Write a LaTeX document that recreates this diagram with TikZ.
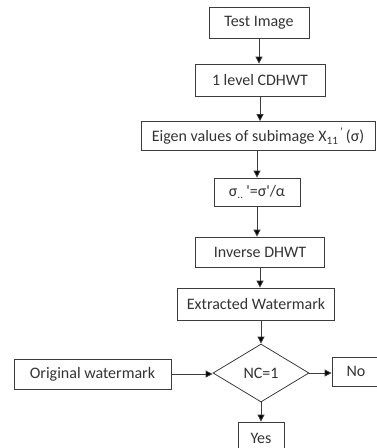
\documentclass[tikz,border=0pt]{standalone}
\usepackage{fontspec}
\setmainfont{Carlito}
\usetikzlibrary{shapes.geometric,arrows.meta}
\definecolor{linegray}{HTML}{3C3C3C}
\definecolor{textgray}{HTML}{333333}
\begin{document}
\begin{tikzpicture}[x=1pt,y=-1pt,
  font=\fontsize{16}{19}\selectfont,
  stepbox/.style={draw=linegray, line width=0.8pt, text=textgray,
    minimum height=30pt, inner sep=0pt, anchor=center},
  decision/.style={diamond, draw=linegray, line width=0.8pt, text=textgray,
    inner sep=0pt, aspect=1.65, minimum width=96pt, minimum height=58pt},
  arr/.style={draw=linegray, line width=0.8pt,
    -{Triangle[length=7pt,width=7pt,fill=black]}}]
\useasboundingbox (0,0) rectangle (377,448);
\clip (0,0) rectangle (377,448);

% main column
\node[stepbox, minimum width=100pt, minimum height=31pt] (test) at (259,22.5) {Test Image};
\node[stepbox, minimum width=130pt, minimum height=32pt] (cdhwt) at (260,80) {1 level CDHWT};
\node[stepbox, minimum width=234pt, minimum height=29pt] (eigen) at (258,136)
  {Eigen values of subimage X\textsubscript{11}\textsuperscript{\,\textquotesingle}\,(σ)};
\node[stepbox, minimum width=86pt, minimum height=28pt] (sigma) at (257,192)
  {σ\textsubscript{..}\,\textquotesingle=σ\textquotesingle/α};
\node[stepbox, minimum width=129pt, minimum height=30pt] (inverse) at (260,252) {Inverse DHWT};
\node[stepbox, minimum width=157pt, minimum height=32pt] (extract) at (256,304) {Extracted Watermark};
\node[decision] (nc) at (261,373) {NC=1};

% side inputs and outcomes
\node[stepbox, minimum width=157pt, minimum height=30pt] (orig) at (92.5,374) {Original watermark};
\node[stepbox, minimum width=48pt, minimum height=29pt] (no) at (356,371.5) {No};
\node[stepbox, minimum width=46pt, minimum height=32pt] (yes) at (261,438) {Yes};

% connectors
\draw[arr] (test.south) -- (test.south |- cdhwt.north);
\draw[arr] (cdhwt.south) -- (cdhwt.south |- eigen.north);
\draw[arr] (eigen.south -| sigma) -- (sigma.north);
\draw[arr] (sigma.south) -- (sigma.south |- inverse.north);
\draw[arr] (inverse.south) -- (inverse.south |- extract.north);
\draw[arr] (extract.south -| nc) -- (nc.north);
\draw[arr] (orig.east) -- (orig.east -| nc.west);
\draw[arr] (nc.east) -- (nc.east -| no.west);
\draw[arr] (nc.south) -- (yes.north);
\end{tikzpicture}
\end{document}
